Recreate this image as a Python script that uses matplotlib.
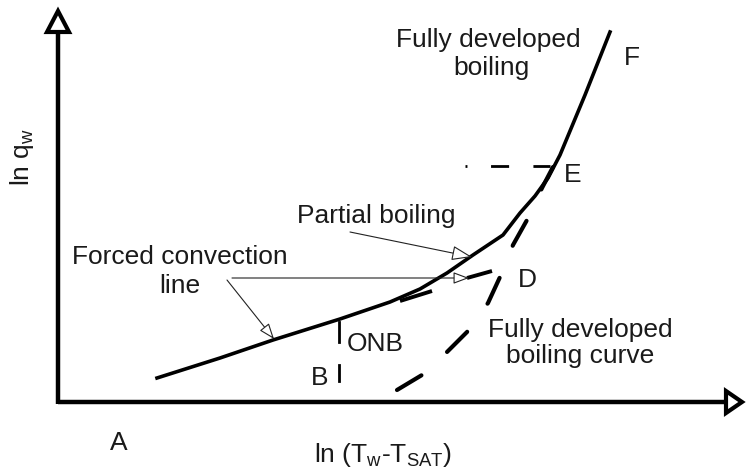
import matplotlib
matplotlib.use("Agg")
import matplotlib.pyplot as plt
from matplotlib.patches import Polygon

plt.rcParams['font.family'] = ['Liberation Sans', 'DejaVu Sans']
plt.rcParams['mathtext.fontset'] = 'custom'
plt.rcParams['mathtext.rm'] = 'Liberation Sans'
plt.rcParams['mathtext.it'] = 'Liberation Sans:italic'
plt.rcParams['mathtext.default'] = 'rm'
plt.rcParams['lines.scale_dashes'] = False

# ---- data (schematic coordinates, canvas units) ----
boiling_x = [157, 220, 273, 340, 390, 420, 447, 473, 503, 520, 535, 548, 560, 585, 610]
boiling_y = [378, 358, 340, 319, 302, 289, 273, 255, 235, 213, 196, 178, 155, 95, 32]

forced_dash1_x = [400, 432]
forced_dash1_y = [301, 291]
forced_dash2_x = [467, 492]
forced_dash2_y = [278, 271]

fdb_x = [397, 422, 447, 467, 488, 500, 513, 527, 542, 553]
fdb_y = [390, 375, 352, 332, 303, 277, 245, 220, 188, 167]

e_line_x = [465, 550]
e_line_y = [166, 166]

onb_x = [339, 339]
onb_y = [322, 342]
b_x = [339, 339]
b_y = [365, 381]

origin = (58, 402)
y_top = 8
x_right = 745

TXT = '#1a1a1a'
FS = 19

fig = plt.figure(figsize=(7.47, 4.75), dpi=100)
ax = fig.add_axes([0, 0, 1, 1])
ax.set_xlim(0, 747)
ax.set_ylim(475, 0)
ax.axis('off')

# axes with hollow arrow heads
ax.plot([origin[0], origin[0]], [origin[1] + 2, 32], color='black', lw=3.2, solid_capstyle='butt')
ax.plot([origin[0], 725], [origin[1], origin[1]], color='black', lw=3.2, solid_capstyle='butt')
ax.add_patch(Polygon([(origin[0], y_top + 3), (origin[0] - 11, 32), (origin[0] + 11, 32)],
                     closed=True, fc='white', ec='black', lw=3, joinstyle='miter'))
ax.add_patch(Polygon([(x_right - 3, origin[1]), (726, origin[1] - 11), (726, origin[1] + 11)],
                     closed=True, fc='white', ec='black', lw=3, joinstyle='miter'))

# main boiling curve
ax.plot(boiling_x, boiling_y, color='black', lw=2.6, solid_joinstyle='round')

# forced convection extension
ax.plot(forced_dash1_x, forced_dash1_y, color='black', lw=2.8, solid_capstyle='butt')
ax.plot(forced_dash2_x, forced_dash2_y, color='black', lw=2.8, solid_capstyle='butt')

# fully developed boiling curve (dashed)
ax.plot(fdb_x, fdb_y, color='black', lw=3, linestyle=(0, (20.5, 25)), dash_capstyle='round')

# E line (dash-dot)
ax.plot(e_line_x, e_line_y, color='black', lw=2, dash_capstyle='butt',
        linestyle=(0, (1.4, 17, 13, 17.5, 13, 20)))

# ONB / B ticks
ax.plot(onb_x, onb_y, color='black', lw=2)
ax.plot(b_x, b_y, color='black', lw=2)

# thin arrows
arr_big = dict(arrowstyle='-|>,head_length=1.05,head_width=0.38', color='#222222', fc='white',
               lw=0.8, mutation_scale=12, shrinkA=0, shrinkB=0)
arr = dict(arrowstyle='-|>,head_length=0.8,head_width=0.3', color='#222222', fc='white',
           lw=0.8, mutation_scale=12, shrinkA=0, shrinkB=0)
ax.annotate('', xy=(472, 257), xytext=(350, 232), arrowprops=arr_big)
ax.annotate('', xy=(469, 278), xytext=(232, 278), arrowprops=arr)
ax.annotate('', xy=(274, 339), xytext=(227, 280), arrowprops=arr)

# labels (baseline-anchored)
def lab(x, y, s, **kw):
    ax.text(x, y, s, ha='center', va='baseline', fontsize=FS, color=TXT, **kw)

lab(488, 47, 'Fully developed')
lab(491, 75, 'boiling')
lab(632, 65, 'F')
lab(573, 182, 'E')
lab(376, 223, 'Partial boiling')
lab(527, 287, 'D')
lab(180, 264, 'Forced convection')
lab(180, 293, 'line')
lab(375, 351, 'ONB')
lab(320, 385, 'B')
lab(580, 337, 'Fully developed')
lab(580, 363, 'boiling curve')
lab(119, 450, 'A')
lab(383, 462, r'ln (T$_{w}$-T$_{SAT}$)')
ax.text(22, 157, r'ln q$_{w}$', ha='center', va='center', rotation=90, fontsize=FS, color=TXT)

fig.savefig('out.png', dpi=100)
